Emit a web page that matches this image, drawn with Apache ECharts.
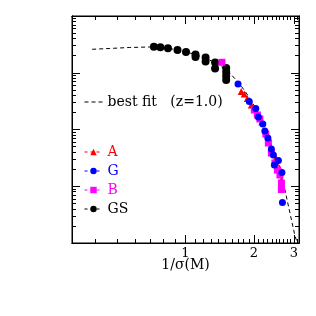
<!DOCTYPE html>
<html><head><meta charset="utf-8">
<script src="https://cdn.jsdelivr.net/npm/echarts@6/dist/echarts.min.js"></script>
<style>html,body{margin:0;padding:0;background:#fff}#c{width:316px;height:316px}</style>
</head><body><div id="c"></div>
<script>
// best-fit curve (z=1.0)
const fitX = [0.388,0.461,0.565,0.693,0.767,0.850,0.941,1.041,1.153,1.277,1.414,1.566,1.734,1.919,2.126,2.353,2.476,2.606,2.742,2.885,3.036,3.11];
const fitY = [0.259,0.2675,0.2786,0.2843,0.2809,0.2675,0.2486,0.2246,0.1973,0.1678,0.1342,0.0990,0.0633,0.0359,0.0173,0.00627,0.00355,0.00193,0.000859,0.000338,0.000133,0.0001];
// GS
const gsX = [0.7255,0.775,0.837,0.922,1.005,1.107,1.107,1.226,1.226,1.350,1.350,1.511,1.511,1.511,1.511];
const gsY = [0.2866,0.2809,0.2697,0.2518,0.2320,0.2097,0.1894,0.1856,0.1578,0.1516,0.1188,0.1213,0.1031,0.0877,0.0745];
// A
const aX = [1.760,1.815,1.872,1.949,2.169,2.330,2.502,2.593,2.646];
const aY = [0.0467,0.0422,0.0352,0.0270,0.01356,0.00708,0.00315,0.00210,0.00129];
// B
const bX = [1.447,2.010,2.073,2.126,2.259,2.317,2.389,2.476,2.540,2.606,2.646,2.646];
const bY = [0.1528,0.02206,0.0180,0.01531,0.00833,0.00578,0.00385,0.00257,0.00193,0.00158,0.00114,0.000877];
// G
const gX = [1.704,1.910,2.040,2.094,2.191,2.236,2.306,2.389,2.439,2.464,2.566,2.659,2.673];
const gY = [0.0633,0.0311,0.02344,0.01661,0.01250,0.00941,0.00708,0.00453,0.00355,0.00237,0.00284,0.00175,0.000517];

const xLabels = [1,2,3];
const xMajor = [1,2,3];
const xMinor = [0.4,0.5,0.6,0.7,0.8,0.9,1.1,1.2,1.3,1.4,1.5,1.6,1.7,1.8,1.9,2.1,2.2,2.3,2.4,2.5,2.6,2.7,2.8,2.9,3.1];
const yMajor = [0.0001,0.001,0.01,0.1,1];
const yMinor = [];
[0.0001,0.001,0.01,0.1].forEach(d=>{for(let k=2;k<=9;k++) yMinor.push(+(k*d).toPrecision(3));});

const XMIN = Math.pow(10,-0.5), XMAX = Math.pow(10,0.5);
const YMIN = 0.0001, YMAX = 1;
const FONT = 'DejaVu Serif';

const zip = (xs, ys) => xs.map((x,i)=>[x, ys[i]]);

function xAx(pos, ticks, len, labels){
  return {type:'log', position:pos, min:XMIN, max:XMAX, gridIndex:0,
    axisLine:{show:true, lineStyle:{color:'#000', width:1}},
    axisTick:{show:true, inside:true, length:len, customValues:ticks, lineStyle:{color:'#000', width:1}},
    axisLabel:labels ? {show:true, customValues:labels, color:'#000', fontFamily:FONT, fontSize:13, margin:4} : {show:false},
    splitLine:{show:false}, minorTick:{show:false}, minorSplitLine:{show:false}};
}
function yAx(pos, ticks, len){
  return {type:'log', position:pos, min:YMIN, max:YMAX, gridIndex:0,
    axisLine:{show:true, lineStyle:{color:'#000', width:1}},
    axisTick:{show:true, inside:true, length:len, customValues:ticks, lineStyle:{color:'#000', width:1}},
    axisLabel:{show:false},
    splitLine:{show:false}};
}

const xAxes = [xAx('bottom', xMajor, 8, xLabels), xAx('bottom', xMinor, 4), xAx('top', xMajor, 8), xAx('top', xMinor, 4)];
xAxes[0].name = '1/σ(M)';
xAxes[0].nameLocation = 'middle';
xAxes[0].nameGap = 15;
xAxes[0].nameMoveOverlap = false;
xAxes[0].nameTextStyle = {color:'#000', fontFamily:FONT, fontSize:14, verticalAlign:'top'};
const yAxes = [yAx('left', yMajor, 8), yAx('left', yMinor, 4), yAx('right', yMajor, 8), yAx('right', yMinor, 4)];

function pts(name, xs, ys, color, symbol, size){
  return {name, type:'line', data:zip(xs,ys), symbol, symbolSize:size, showSymbol:true,
    itemStyle:{color}, lineStyle:{color, opacity:0, width:1, type:[3,3]}, silent:true, animation:false, z:3, clip:false};
}

const option = {
  animation:false,
  backgroundColor:'#fff',
  grid:{left:72, top:16, right:17, bottom:73, show:true, borderColor:'#000', borderWidth:1, containLabel:false},
  xAxis:xAxes,
  yAxis:yAxes,
  legend:[
    {show:true, orient:'horizontal', left:79, top:90, itemWidth:18, itemHeight:8, selectedMode:false,
     data:[{name:'best fit   (z=1.0)'}],
     itemStyle:{opacity:0}, lineStyle:{type:[4,3], width:1, opacity:1},
     textStyle:{color:'#000', fontFamily:FONT, fontSize:14}},
    {show:true, orient:'vertical', left:79, top:140, itemWidth:18, itemHeight:8, itemGap:5, selectedMode:false,
     data:[
       {name:'A', textStyle:{color:'#ff0000'}},
       {name:'G', textStyle:{color:'#0000ff'}},
       {name:'B', textStyle:{color:'#ff00ff'}},
       {name:'GS', textStyle:{color:'#000000'}}
     ],
     lineStyle:{type:[3,3], width:1, opacity:1},
     textStyle:{fontFamily:FONT, fontSize:14, lineHeight:14}}
  ],
  series:[
    {name:'best fit   (z=1.0)', type:'line', data:zip(fitX,fitY), symbol:'none', showSymbol:false,
     lineStyle:{color:'#000', width:1, type:[4,3]}, itemStyle:{color:'#000'}, silent:true, z:2, clip:true},
    pts('GS', gsX, gsY, '#000000', 'circle', 8),
    pts('A', aX, aY, '#ff0000', 'triangle', 7),
    pts('B', bX, bY, '#ff00ff', 'rect', 7),
    pts('G', gX, gY, '#0000ff', 'circle', 7)
  ]
};
const chart = echarts.init(document.getElementById('c'), null, {renderer:'canvas'});
chart.setOption(option);
</script>
</body></html>
